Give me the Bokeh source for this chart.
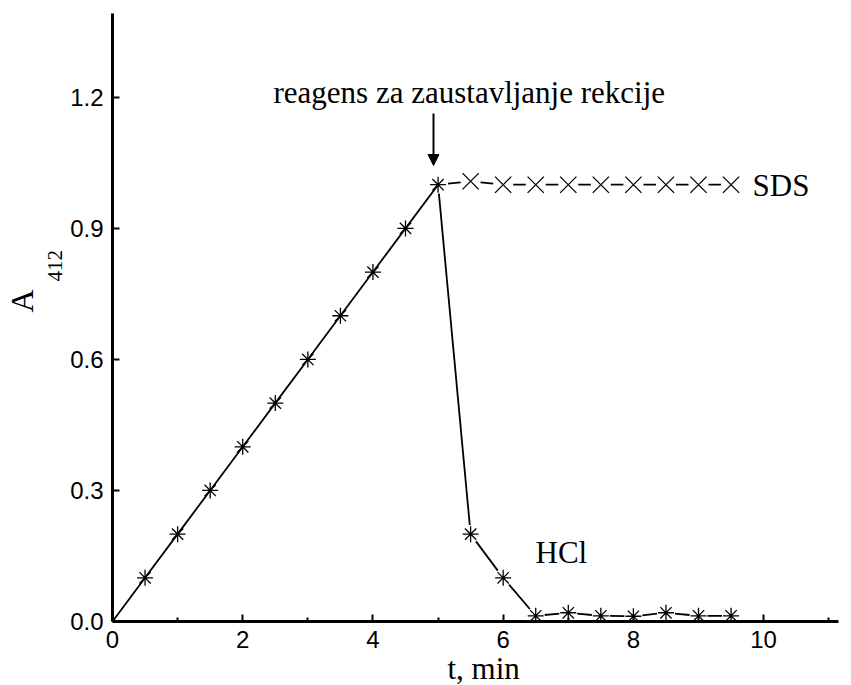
import math
from bokeh.plotting import figure
from bokeh.models import (FixedTicker, PrintfTickFormatter, Label, Arrow,
                          NormalHead, Range1d, Title)
from bokeh.embed import file_html
from bokeh.resources import INLINE

# ---- data ----
t_rise = [0.0, 0.5, 1.0, 1.5, 2.0, 2.5, 3.0, 3.5, 4.0, 4.5, 5.0]
A_rise = [0.0, 0.1, 0.2, 0.3, 0.4, 0.5, 0.6, 0.7, 0.8, 0.9, 1.0]
t_after = [5.5, 6.0, 6.5, 7.0, 7.5, 8.0, 8.5, 9.0, 9.5]
A_hcl = [0.20, 0.10, 0.013, 0.02, 0.013, 0.012, 0.02, 0.013, 0.013]
A_sds = [1.008, 1.0, 1.0, 1.0, 1.0, 1.0, 1.0, 1.0, 1.0]
x_ticks = [0, 2, 4, 6, 8, 10]
x_minor = [1, 3, 5, 7, 9, 11]
y_ticks = [0.0, 0.3, 0.6, 0.9, 1.2]
t_stop = 5.0
annot_text = "reagens za zaustavljanje rekcije"
x_title = "t, min"
y_title_main = "A"
y_title_sub = "412"

# ---- layout ----
XMAX, YMAX = 11.15, 1.392
FW, FH = 726, 608
sx = FW / XMAX
sy = FH / YMAX
FL, FT = 112, 13   # frame left / top in picture pixels

p = figure(frame_width=FW, frame_height=FH, x_range=Range1d(0, XMAX),
           y_range=Range1d(0, YMAX), output_backend="svg",
           toolbar_location=None, min_border_left=FL, min_border_top=FT,
           min_border_right=11, min_border_bottom=64)
p.outline_line_color = None
p.xgrid.visible = False
p.ygrid.visible = False
p.background_fill_color = "white"
p.border_fill_color = "white"

for ax in (p.xaxis[0], p.yaxis[0]):
    ax.axis_line_width = 3
    ax.axis_line_color = "black"
    ax.major_tick_in = 7
    ax.major_tick_out = 0
    ax.minor_tick_in = 4
    ax.minor_tick_out = 0
    ax.major_tick_line_width = 2
    ax.minor_tick_line_width = 2
    ax.major_label_text_font = "Liberation Sans"
    ax.major_label_text_font_size = "24px"
    ax.major_label_text_color = "black"

p.xaxis.ticker = FixedTicker(ticks=x_ticks, minor_ticks=x_minor)
p.xaxis.formatter = PrintfTickFormatter(format="%d")
p.xaxis.major_label_standoff = 9
p.yaxis.ticker = FixedTicker(ticks=y_ticks, minor_ticks=[])
p.yaxis.formatter = PrintfTickFormatter(format="%.1f")
p.yaxis.major_label_standoff = 9


def gapped(xs, ys, g0, g1):
    x0s, y0s, x1s, y1s = [], [], [], []
    for i in range(len(xs) - 1):
        dx = (xs[i + 1] - xs[i]) * sx
        dy = (ys[i + 1] - ys[i]) * sy
        L = math.hypot(dx, dy)
        f0, f1 = g0 / L, g1 / L
        x0s.append(xs[i] + (xs[i + 1] - xs[i]) * f0)
        y0s.append(ys[i] + (ys[i + 1] - ys[i]) * f0)
        x1s.append(xs[i + 1] - (xs[i + 1] - xs[i]) * f1)
        y1s.append(ys[i + 1] - (ys[i + 1] - ys[i]) * f1)
    return x0s, y0s, x1s, y1s


LW = 1.8
# rising part: continuous line
p.line(t_rise, A_rise, line_color="black", line_width=LW)

# HCl branch
hx = [t_rise[-1]] + t_after
hy = [A_rise[-1]] + A_hcl
a, b, c, d = gapped(hx, hy, 9, 9)
p.segment(a, b, c, d, line_color="black", line_width=LW)

# SDS branch
s_x = [t_rise[-1]] + t_after
s_y = [A_rise[-1]] + A_sds
a, b, c, d = gapped(s_x, s_y, 10, 10)
p.segment(a, b, c, d, line_color="black", line_width=LW)

# markers
p.scatter(t_rise[1:], A_rise[1:], marker="asterisk", size=16,
          line_color="black", line_width=1.3)
p.scatter(t_after, A_hcl, marker="asterisk", size=16,
          line_color="black", line_width=1.3)
p.scatter(t_after, A_sds, marker="x", size=23,
          line_color="black", line_width=1.3)

serif = "Liberation Serif"
DY = 11  # baseline correction of Label text


def px2x(px):
    return (px - FL) / sx


def py2y(py):
    return (FT + FH - py + DY) / sy


p.add_layout(Label(x=px2x(273), y=py2y(103), text=annot_text,
                   text_font=serif, text_font_size="31px",
                   text_align="left", text_baseline="alphabetic",
                   text_color="black"))
p.add_layout(Label(x=px2x(752), y=py2y(196), text="SDS",
                   text_font=serif, text_font_size="31px",
                   text_align="left", text_baseline="alphabetic",
                   text_color="black"))
p.add_layout(Label(x=px2x(535), y=py2y(563), text="HCl",
                   text_font=serif, text_font_size="31px",
                   text_align="left", text_baseline="alphabetic",
                   text_color="black"))

# arrow to the stop point
p.add_layout(Arrow(end=NormalHead(size=11, fill_color="black",
                                  line_color="black", line_width=1),
                   x_start=t_stop - 0.07, y_start=(FT + FH - 113) / sy,
                   x_end=t_stop - 0.07, y_end=(FT + FH - 165) / sy,
                   line_color="black", line_width=2))

# axis titles
p.add_layout(Title(text=x_title, align="left", offset=335, standoff=-3,
                   text_font=serif, text_font_size="31px",
                   text_font_style="normal", text_color="black"), "below")
p.add_layout(Title(text=y_title_sub, align="left", offset=340, standoff=12,
                   text_font=serif, text_font_size="21px",
                   text_font_style="normal", text_color="black"), "left")
p.add_layout(Title(text=y_title_main, align="left", offset=309, standoff=0,
                   text_font=serif, text_font_size="32px",
                   text_font_style="normal", text_color="black"), "left")

open("out.html", "w").write(file_html(p, INLINE))
